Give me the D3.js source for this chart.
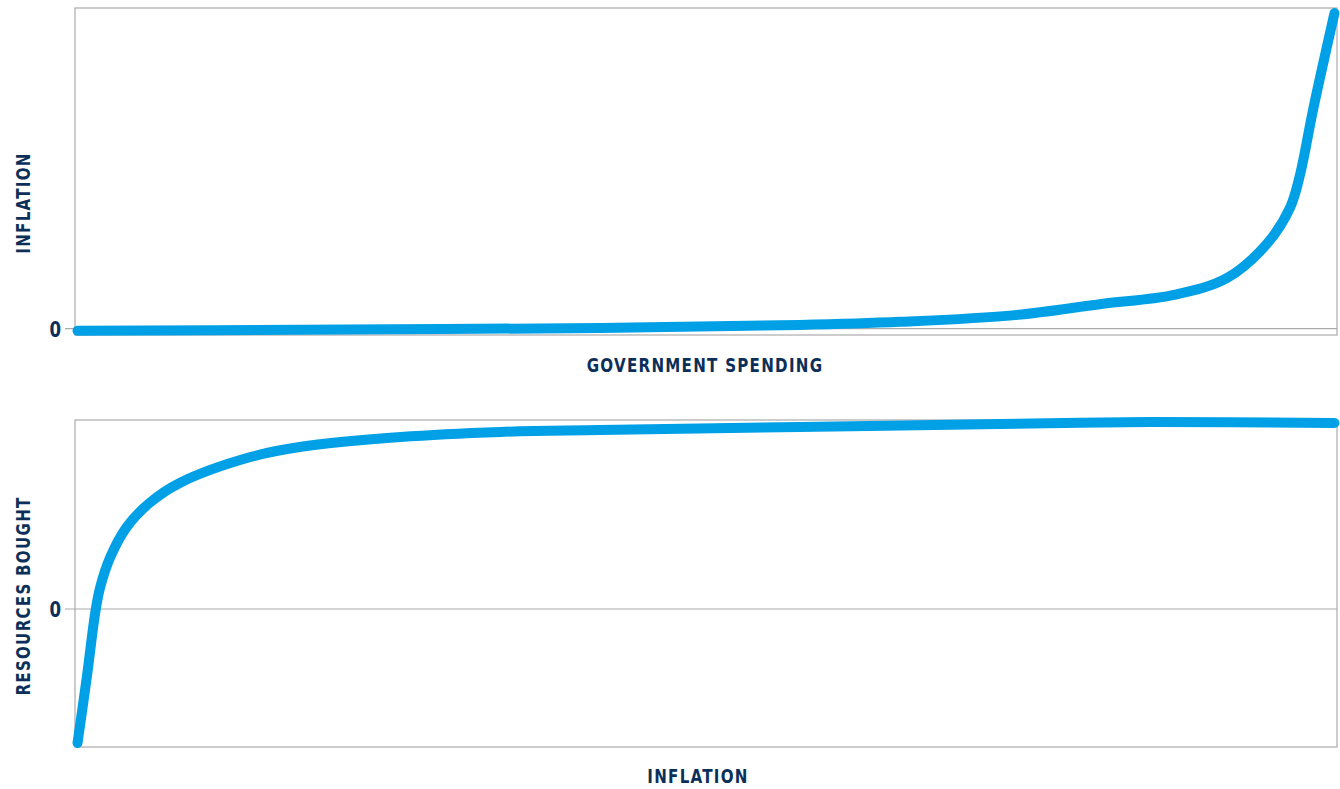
<!DOCTYPE html>
<html lang="en">
<head>
    <meta charset="UTF-8">
    <title>Government spending, inflation and resources bought</title>
    <style>
        body { margin: 0; background: #fff; }
        .frame { fill: none; stroke: #aaa; stroke-width: 1.2px; }
        .zero { stroke: #aaa; stroke-width: 1.2px; }
        .curve { fill: none; stroke: #00a0e6; stroke-width: 10px; stroke-linecap: round; stroke-linejoin: round; }
        .lbl, .tick0 { font-family: "DejaVu Sans", sans-serif; font-stretch: condensed; font-weight: bold; fill: #0c2f5a; }
        .lbl { font-size: 20px; letter-spacing: 1.5px; }
        .tick0 { font-size: 22px; }
    </style>
    <script src="https://d3js.org/d3.v7.min.js"></script>
</head>
<body>
    <svg width="1340" height="789"></svg>
    <script>
        // top panel: inflation against government spending
        const spendX = [0.2, 17.8, 41.6, 57.4, 65.4, 74.5, 81.2, 87.2, 91.3, 94.5, 96.3, 97.1, 98.1, 99.8];
        const inflationY = [-0.7, -0.4, 0.2, 1.1, 2.1, 4.2, 7.6, 10.6, 15.8, 26.7, 37.9, 48.5, 68.2, 98.4];

        // bottom panel: resources bought against inflation
        const inflX = [0.2, 0.95, 1.6, 2.0, 2.8, 4.1, 5.9, 8.3, 13.9, 17.8, 25.8, 33.7, 41.6, 57.4, 73.3, 85.2, 99.8];
        const resourcesY = [-70.9, -35.4, -2.1, 11.6, 27.5, 43.4, 56.1, 66.7, 80.4, 85.7, 91.0, 93.7, 94.7, 96.3, 97.9, 98.9, 98.4];

        const svg = d3.select("svg");
        const left = 75, right = 1337;
        const squeeze = 0.84; // narrow the labels like the original condensed face

        const x = d3.scaleLinear().domain([0, 100]).range([left, right]);

        function panel(top, bottom, yDomain, xs, ys, yTitle, xTitle, titleX, titleY, yTitleCenter) {
            const y = d3.scaleLinear().domain(yDomain).range([bottom, top]);
            const g = svg.append("g");

            g.append("rect").attr("class", "frame")
                .attr("x", left).attr("y", top)
                .attr("width", right - left).attr("height", bottom - top);

            g.append("line").attr("class", "zero")
                .attr("x1", left - 10).attr("x2", right)
                .attr("y1", y(0)).attr("y2", y(0));

            g.append("text").attr("class", "tick0")
                .attr("transform", `translate(${left - 14},${y(0)}) scale(${squeeze},1)`)
                .attr("dy", "0.36em").attr("text-anchor", "end")
                .text("0");

            const pts = xs.map((v, i) => [v, ys[i]]);
            g.append("path").attr("class", "curve")
                .datum(pts)
                .attr("d", d3.line().x(d => x(d[0])).y(d => y(d[1])).curve(d3.curveCatmullRom.alpha(0.5)));

            g.append("text").attr("class", "lbl")
                .attr("transform", `translate(30,${yTitleCenter}) rotate(-90) scale(${squeeze},1)`)
                .attr("text-anchor", "middle")
                .text(yTitle);

            g.append("text").attr("class", "lbl")
                .attr("transform", `translate(${titleX},${titleY}) scale(${squeeze},1)`)
                .attr("text-anchor", "middle")
                .text(xTitle);
        }

        panel(8, 335, [-2, 100], spendX, inflationY, "INFLATION", "GOVERNMENT SPENDING", 705, 372, 203);
        panel(420, 747, [-73, 100], inflX, resourcesY, "RESOURCES BOUGHT", "INFLATION", 698, 783, 596);
    </script>
</body>
</html>
